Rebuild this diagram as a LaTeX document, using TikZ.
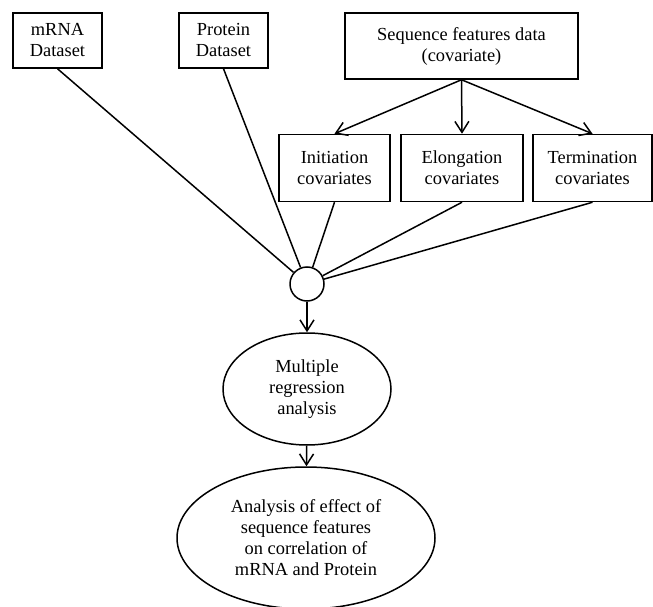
\documentclass[tikz,border=0pt]{standalone}
\usepackage{fontspec}
\setmainfont{Liberation Serif}
\usetikzlibrary{arrows.meta,shapes.geometric}

\begin{document}
\begin{tikzpicture}[x=1pt,y=-1pt,>={Straight Barb[length=11pt,width=14pt]},line width=1.5pt,
  every node/.style={align=center,font=\fontsize{18.4}{21}\selectfont,inner sep=0pt},
  databox/.style={draw,rectangle,minimum height=#1},
  oval/.style={draw,ellipse}]
\useasboundingbox (0,0) rectangle (653,607);
\node[databox=55,minimum width=89] (mrna) at (57.5,40.5) {mRNA\\Dataset};
\node[databox=55,minimum width=89] (prot) at (223.5,40.5) {Protein\\Dataset};
\node[databox=66,minimum width=233] (seq) at (461.5,46) {Sequence features data\\(covariate)};
\node[databox=67,minimum width=111] (init) at (334.5,168) {Initiation\\covariates};
\node[databox=67,minimum width=122] (elong) at (462,168) {Elongation\\covariates};
\node[databox=67,minimum width=119] (term) at (592.5,168) {Termination\\covariates};
\node[draw,circle,minimum size=34] (join) at (307,284) {};
\node[oval,minimum width=168,minimum height=112] (reg) at (307,389) {Multiple\\regression\\analysis};
\node[oval,minimum width=258,minimum height=142] (eff) at (306,538) {Analysis of effect of\\sequence features\\on correlation of\\mRNA and Protein};
\draw[->] (seq.south)--(init.north);
\draw[->] (seq.south)--(elong.north);
\draw[->] (seq.south)--(term.north);
\draw (mrna.south)--(join);
\draw (prot.south)--(join);
\draw (init.south)--(join);
\draw (elong.south)--(join);
\draw (term.south)--(join);
\draw[->] (join)--(reg);
\draw[->] (reg)--(eff);
\end{tikzpicture}
\end{document}
